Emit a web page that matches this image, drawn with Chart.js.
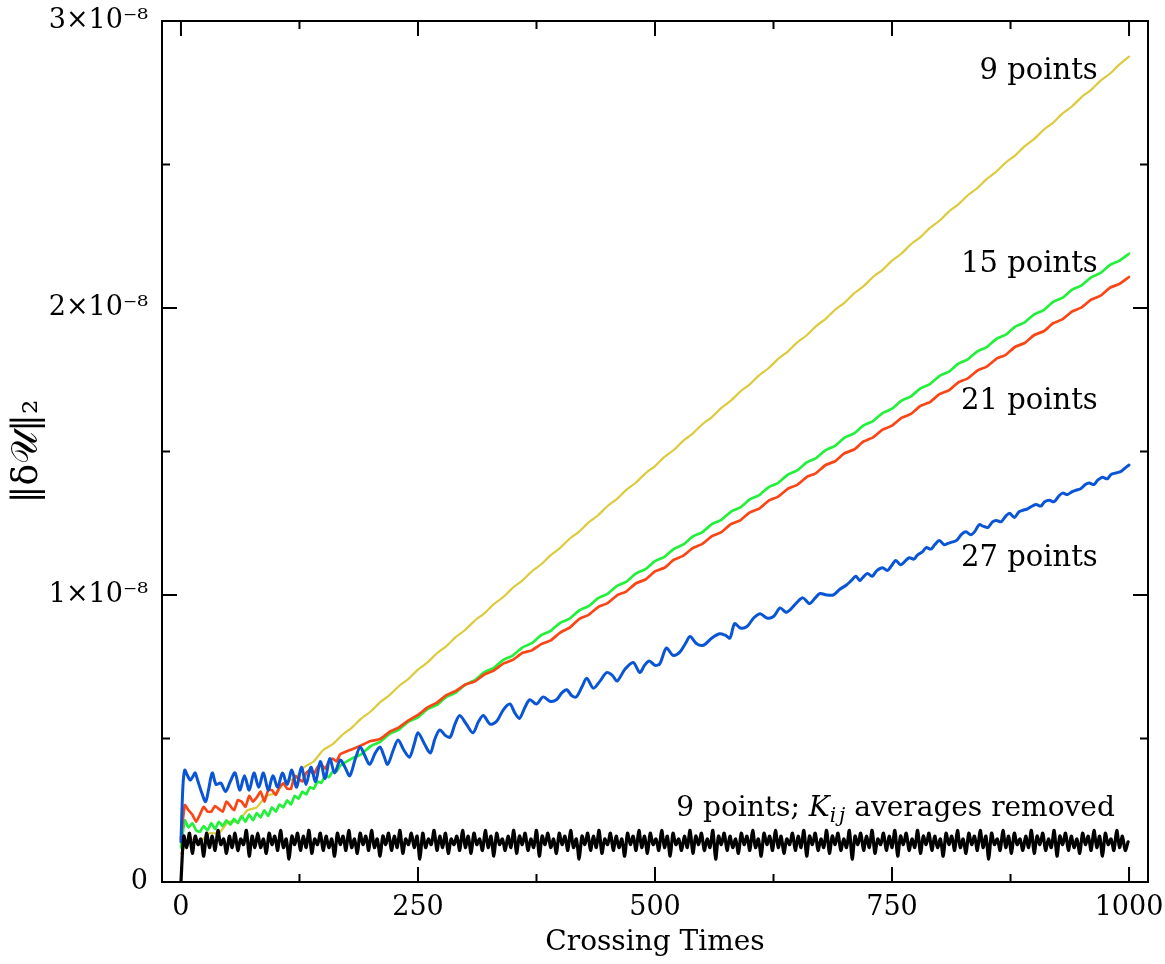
<!DOCTYPE html>
<html lang="en">
<head>
    <meta charset="UTF-8">
    <title>Error growth vs crossing times</title>
    <script src="https://cdn.jsdelivr.net/npm/chart.js"></script>
    <style>
        html, body {
            margin: 0;
            padding: 0;
            background: #ffffff;
        }
        #wrap {
            width: 1165px;
            height: 964px;
        }
    </style>
</head>
<body>
<div id="wrap"><canvas id="errChart" width="1165" height="964"></canvas></div>
<script>
    // values are in units of 1e-8
    const xTicks = [0, 250, 500, 750, 1000];
    const xMinorTicks = [125, 375, 625, 875];
    const yTicks = [0, 1, 2, 3];
    const yMinorTicks = [0.5, 1.5, 2.5];

    // 9 points, sampled every 10 crossing times
    const yellowV = [
        0.10, 0.15, 0.14, 0.17, 0.17, 0.21, 0.21, 0.25, 0.26, 0.30, 0.31, 0.35, 0.36, 0.40, 0.42, 0.46, 0.48,
        0.512, 0.537, 0.569, 0.594, 0.626, 0.651, 0.683, 0.708, 0.740, 0.765,
        0.797, 0.822, 0.854, 0.879, 0.911, 0.936, 0.968, 0.993, 1.025, 1.050,
        1.082, 1.107, 1.139, 1.164, 1.196, 1.221, 1.253, 1.278, 1.310, 1.335,
        1.367, 1.392, 1.424, 1.449, 1.481, 1.506, 1.538, 1.563, 1.595, 1.620,
        1.652, 1.677, 1.709, 1.734, 1.766, 1.791, 1.823, 1.848, 1.880, 1.905,
        1.937, 1.962, 1.994, 2.019, 2.051, 2.076, 2.108, 2.133, 2.165, 2.190,
        2.222, 2.247, 2.279, 2.304, 2.336, 2.361, 2.393, 2.418, 2.450, 2.475,
        2.507, 2.532, 2.564, 2.589, 2.621, 2.646, 2.678, 2.703, 2.735, 2.760,
        2.792, 2.817, 2.849, 2.876
    ];

    // 15 points: every 4 up to 168, then every 10 from 180
    const greenEarly = [
        0.12, 0.215, 0.19, 0.205, 0.18, 0.175, 0.195, 0.18, 0.205, 0.185,
        0.21, 0.195, 0.215, 0.20, 0.22, 0.205, 0.23, 0.21, 0.235, 0.215,
        0.24, 0.225, 0.25, 0.23, 0.26, 0.245, 0.27, 0.26, 0.285, 0.27,
        0.30, 0.29, 0.315, 0.305, 0.33, 0.325, 0.35, 0.345, 0.37, 0.365,
        0.385, 0.385, 0.405
    ];
    const greenLate = [
        0.430, 0.445, 0.473, 0.488, 0.516, 0.531, 0.559, 0.574, 0.602, 0.617,
        0.645, 0.660, 0.688, 0.703, 0.731, 0.746, 0.774, 0.789, 0.817, 0.832,
        0.860, 0.875, 0.903, 0.918, 0.946, 0.961, 0.989, 1.004, 1.032, 1.047,
        1.075, 1.090, 1.118, 1.133, 1.161, 1.176, 1.204, 1.219, 1.247, 1.262,
        1.290, 1.305, 1.333, 1.348, 1.376, 1.391, 1.419, 1.434, 1.462, 1.477,
        1.505, 1.520, 1.548, 1.563, 1.591, 1.606, 1.634, 1.649, 1.677, 1.692,
        1.720, 1.735, 1.763, 1.778, 1.806, 1.821, 1.849, 1.864, 1.892, 1.907,
        1.935, 1.950, 1.978, 1.993, 2.021, 2.036, 2.064, 2.079, 2.107, 2.122,
        2.150, 2.165, 2.189
    ];

    // 21 points
    const redEarly = [
        0.15, 0.268, 0.25, 0.235, 0.21, 0.235, 0.262, 0.245, 0.245, 0.265,
        0.255, 0.245, 0.28, 0.265, 0.25, 0.285, 0.28, 0.262, 0.30, 0.28,
        0.295, 0.315, 0.28, 0.32, 0.32, 0.303, 0.33, 0.344, 0.325, 0.325,
        0.37, 0.36, 0.35, 0.38, 0.39, 0.375, 0.40, 0.41, 0.395, 0.42,
        0.43, 0.42, 0.445
    ];
    const redLate = [
        0.462, 0.476, 0.491, 0.498, 0.523, 0.539, 0.563, 0.582, 0.608, 0.625,
        0.651, 0.666, 0.688, 0.699, 0.723, 0.737, 0.761, 0.774, 0.798, 0.807,
        0.829, 0.842, 0.869, 0.886, 0.916, 0.931, 0.958, 0.972, 0.999, 1.013,
        1.041, 1.054, 1.082, 1.095, 1.123, 1.137, 1.164, 1.178, 1.205, 1.219,
        1.247, 1.260, 1.288, 1.301, 1.329, 1.343, 1.370, 1.384, 1.411, 1.425,
        1.453, 1.466, 1.494, 1.507, 1.535, 1.549, 1.576, 1.590, 1.617, 1.631,
        1.659, 1.672, 1.700, 1.713, 1.741, 1.755, 1.782, 1.796, 1.823, 1.837,
        1.865, 1.878, 1.906, 1.919, 1.947, 1.961, 1.988, 2.002, 2.029, 2.043,
        2.071, 2.084, 2.108
    ];

    // 27 points, read at the visible wiggles
    const blueT = [
        0, 2, 4, 7, 10, 13, 15, 18, 22, 26,
        29, 33, 37, 42, 47, 52, 57, 62, 67, 72,
        77, 82, 87, 92, 97, 102, 107, 112, 117, 122,
        127, 132, 137, 142, 147, 152, 157, 162, 168, 173,
        178, 184, 189, 194, 199, 205, 210, 214, 218, 224,
        229, 235, 241, 246, 250, 257, 263, 268, 273, 279,
        284, 289, 294, 301, 308, 314, 319, 326, 333, 340,
        347, 352, 357, 363, 368, 375, 382, 389, 396, 402,
        407, 412, 417, 423, 428, 435, 442, 449, 455, 460,
        468, 477, 484, 489, 494, 500, 505, 512, 519, 526,
        532, 537, 544, 551, 560, 568, 574, 579, 584, 590,
        597, 604, 611, 618, 625, 632, 638, 643, 650, 656,
        663, 669, 674, 681, 688, 695, 702, 707, 712, 716,
        719, 724, 729, 734, 740, 745, 749, 754, 759, 763,
        768, 773, 777, 782, 786, 791, 795, 800, 805, 809,
        814, 818, 823, 828, 833, 837, 842, 846, 851, 856,
        860, 865, 870, 874, 879, 884, 888, 893, 898, 902,
        907, 911, 916, 921, 926, 930, 935, 940, 944, 949,
        954, 958, 963, 967, 972, 977, 981, 986, 991, 995,
        1000
    ];
    const blueV = [
        0.14, 0.33, 0.39, 0.37, 0.355, 0.37, 0.38, 0.35, 0.31, 0.28,
        0.32, 0.38, 0.34, 0.345, 0.315, 0.35, 0.38, 0.32, 0.37, 0.32,
        0.38, 0.33, 0.38, 0.32, 0.37, 0.33, 0.38, 0.34, 0.39, 0.33,
        0.40, 0.34, 0.40, 0.35, 0.42, 0.36, 0.43, 0.38, 0.425, 0.40,
        0.37, 0.43, 0.47, 0.44, 0.41, 0.45, 0.47, 0.44, 0.41, 0.46,
        0.495, 0.46, 0.435, 0.48, 0.52, 0.48, 0.45, 0.50, 0.53, 0.51,
        0.505, 0.55, 0.58, 0.55, 0.52, 0.56, 0.58, 0.55, 0.56, 0.60,
        0.62, 0.59, 0.57, 0.61, 0.635, 0.62, 0.645, 0.63, 0.635, 0.66,
        0.67, 0.65, 0.645, 0.68, 0.71, 0.675, 0.70, 0.73, 0.72, 0.70,
        0.74, 0.765, 0.73, 0.755, 0.77, 0.755, 0.76, 0.815, 0.79, 0.80,
        0.83, 0.855, 0.83, 0.825, 0.85, 0.865, 0.86, 0.85, 0.90, 0.885,
        0.89, 0.92, 0.935, 0.92, 0.925, 0.955, 0.94, 0.95, 0.975, 0.99,
        0.97, 0.99, 1.005, 1.00, 1.00, 1.02, 1.035, 1.05, 1.065, 1.05,
        1.06, 1.075, 1.065, 1.085, 1.095, 1.085, 1.10, 1.12, 1.105, 1.115,
        1.13, 1.125, 1.14, 1.15, 1.165, 1.16, 1.175, 1.19, 1.175, 1.18,
        1.185, 1.19, 1.21, 1.22, 1.21, 1.22, 1.245, 1.24, 1.235, 1.255,
        1.26, 1.255, 1.275, 1.285, 1.27, 1.29, 1.295, 1.30, 1.31, 1.315,
        1.31, 1.325, 1.33, 1.325, 1.345, 1.355, 1.35, 1.36, 1.365, 1.37,
        1.385, 1.39, 1.385, 1.40, 1.41, 1.405, 1.42, 1.425, 1.43, 1.44,
        1.453
    ];

    // 9 points with K_ij averages removed, sampled every 3 crossing times
    const blackV = [
        0.00, 0.16, 0.12, 0.17, 0.10, 0.16, 0.13, 0.15, 0.09, 0.17, 0.12, 0.16, 0.11, 0.18, 0.13, 0.15, 0.10, 0.16, 0.12, 0.17,
        0.11, 0.15, 0.13, 0.18, 0.09, 0.16, 0.12, 0.17, 0.12, 0.15, 0.10, 0.17, 0.13, 0.16, 0.11, 0.18, 0.12, 0.15, 0.08, 0.16,
        0.13, 0.17, 0.11, 0.16, 0.12, 0.18, 0.10, 0.15, 0.13, 0.17, 0.11, 0.16, 0.12, 0.15, 0.09, 0.17, 0.13, 0.16, 0.11, 0.18,
        0.12, 0.15, 0.10, 0.17, 0.13, 0.16, 0.11, 0.18, 0.12, 0.15, 0.09, 0.16, 0.13, 0.17, 0.11, 0.16, 0.12, 0.18, 0.10, 0.15,
        0.13, 0.17, 0.12, 0.16, 0.08, 0.17, 0.12, 0.15, 0.13, 0.18, 0.11, 0.16, 0.12, 0.17, 0.10, 0.15, 0.13, 0.16, 0.11, 0.18,
        0.12, 0.16, 0.10, 0.17, 0.13, 0.15, 0.11, 0.18, 0.12, 0.16, 0.09, 0.17, 0.13, 0.15, 0.11, 0.16, 0.12, 0.18, 0.10, 0.16,
        0.13, 0.17, 0.11, 0.15, 0.12, 0.18, 0.09, 0.16, 0.13, 0.17, 0.12, 0.15, 0.10, 0.17, 0.13, 0.16, 0.11, 0.18, 0.12, 0.15,
        0.08, 0.16, 0.13, 0.17, 0.11, 0.16, 0.12, 0.18, 0.10, 0.15, 0.13, 0.17, 0.11, 0.16, 0.12, 0.15, 0.09, 0.17, 0.13, 0.16,
        0.11, 0.18, 0.12, 0.16, 0.10, 0.17, 0.13, 0.15, 0.11, 0.18, 0.12, 0.16, 0.09, 0.17, 0.13, 0.15, 0.11, 0.16, 0.12, 0.18,
        0.10, 0.16, 0.13, 0.17, 0.11, 0.15, 0.12, 0.18, 0.08, 0.16, 0.13, 0.17, 0.11, 0.16, 0.12, 0.15, 0.10, 0.17, 0.13, 0.16,
        0.11, 0.18, 0.12, 0.15, 0.09, 0.17, 0.13, 0.16, 0.11, 0.18, 0.12, 0.16, 0.10, 0.15, 0.13, 0.17, 0.11, 0.16, 0.12, 0.18,
        0.09, 0.16, 0.13, 0.17, 0.11, 0.15, 0.12, 0.18, 0.10, 0.16, 0.13, 0.17, 0.11, 0.15, 0.12, 0.18, 0.08, 0.16, 0.13, 0.17,
        0.11, 0.16, 0.12, 0.18, 0.10, 0.15, 0.13, 0.17, 0.11, 0.16, 0.12, 0.18, 0.09, 0.16, 0.13, 0.17, 0.11, 0.15, 0.12, 0.18,
        0.10, 0.16, 0.13, 0.17, 0.11, 0.16, 0.12, 0.15, 0.09, 0.17, 0.13, 0.16, 0.11, 0.18, 0.12, 0.15, 0.10, 0.17, 0.13, 0.16,
        0.11, 0.18, 0.12, 0.16, 0.08, 0.17, 0.13, 0.15, 0.11, 0.18, 0.12, 0.16, 0.10, 0.17, 0.13, 0.15, 0.11, 0.16, 0.12, 0.18,
        0.10, 0.16, 0.13, 0.17, 0.11, 0.15, 0.12, 0.18, 0.09, 0.16, 0.13, 0.17, 0.11, 0.16, 0.12, 0.15, 0.10, 0.17, 0.13, 0.16,
        0.11, 0.18, 0.12, 0.16, 0.09, 0.17, 0.13, 0.15, 0.11, 0.18, 0.12, 0.16, 0.11, 0.14
    ];

    // sampling grid helper
    function steps(start, stop, step) {
        const out = [];
        for (let t = start; t <= stop + 1e-9; t += step) out.push(t);
        return out;
    }

    function toPoints(times, values) {
        const n = Math.min(times.length, values.length);
        if (times.length !== values.length) console.warn('length mismatch', times.length, values.length);
        const pts = [];
        for (let i = 0; i < n; i++) pts.push({ x: times[i], y: values[i] });
        return pts;
    }

    const yellowT = steps(0, 1000, 10);
    const greenT = steps(0, 168, 4).concat(steps(180, 1000, 10));
    const redT = steps(0, 168, 4).concat(steps(180, 1000, 10));
    const blackT = steps(0, 999, 3);

    const serif = "'DejaVu Serif', serif";

    // Annotations next to the curves
    const curveLabels = [
        { text: '9 points', x: 967, y: 2.798 },
        { text: '15 points', x: 967, y: 2.125 },
        { text: '21 points', x: 967, y: 1.648 },
        { text: '27 points', x: 967, y: 1.101 }
    ];

    const framePlugin = {
        id: 'frame',
        afterDatasetsDraw(chart) {
            const { ctx, chartArea: a } = chart;
            const xs = chart.scales.x, ys = chart.scales.y;
            ctx.save();
            ctx.strokeStyle = '#000';
            ctx.lineWidth = 2;
            ctx.beginPath();
            const xTick = (v, len) => {
                const p = xs.getPixelForValue(v);
                ctx.moveTo(p, a.bottom); ctx.lineTo(p, a.bottom - len);
                ctx.moveTo(p, a.top); ctx.lineTo(p, a.top + len);
            };
            const yTick = (v, len) => {
                const p = ys.getPixelForValue(v);
                ctx.moveTo(a.left, p); ctx.lineTo(a.left + len, p);
                ctx.moveTo(a.right, p); ctx.lineTo(a.right - len, p);
            };
            xTicks.forEach(v => xTick(v, 15));
            xMinorTicks.forEach(v => xTick(v, 8));
            yTicks.forEach(v => yTick(v, 15));
            yMinorTicks.forEach(v => yTick(v, 8));
            ctx.stroke();
            ctx.strokeRect(a.left, a.top, a.right - a.left, a.bottom - a.top);

            // curve labels
            ctx.fillStyle = '#000';
            ctx.textAlign = 'right';
            ctx.textBaseline = 'alphabetic';
            ctx.font = '29px ' + serif;
            curveLabels.forEach(l => {
                ctx.fillText(l.text, xs.getPixelForValue(l.x), ys.getPixelForValue(l.y));
            });

            // "9 points; K_ij averages removed"
            const right = xs.getPixelForValue(985);
            const base = ys.getPixelForValue(0.23);
            const parts = [
                { t: '9 points; ', f: '28px ' + serif, dy: 0 },
                { t: 'K', f: 'italic 28px ' + serif, dy: 0 },
                { t: 'i', f: 'italic 20px ' + serif, dy: 6, gap: 3 },
                { t: 'j', f: 'italic 20px ' + serif, dy: 6 },
                { t: ' averages removed', f: '28px ' + serif, dy: 0 }
            ];
            let total = 0;
            parts.forEach(p => { ctx.font = p.f; p.w = ctx.measureText(p.t).width + (p.gap || 0); total += p.w; });
            let cx = right - total;
            ctx.textAlign = 'left';
            parts.forEach(p => {
                ctx.font = p.f;
                ctx.fillText(p.t, cx, base + p.dy);
                cx += p.w;
            });
            ctx.restore();
        }
    };

    function lineSet(label, points, color, width, tension) {
        return {
            label: label,
            data: points,
            borderColor: color,
            backgroundColor: color,
            borderWidth: width,
            pointRadius: 0,
            fill: false,
            tension: tension
        };
    }

    const ctx = document.getElementById('errChart').getContext('2d');
    new Chart(ctx, {
        type: 'line',
        data: {
            datasets: [
                lineSet('9 points; Kij averages removed', toPoints(blackT, blackV), '#000000', 3.2, 0.3),
                lineSet('27 points', toPoints(blueT, blueV), '#0a55d6', 3, 0.3),
                lineSet('21 points', toPoints(redT, redEarly.concat(redLate)), '#fa4616', 2.7, 0.15),
                lineSet('15 points', toPoints(greenT, greenEarly.concat(greenLate)), '#22f03a', 2.7, 0.15),
                lineSet('9 points', toPoints(yellowT, yellowV), '#dccb3c', 2.2, 0.15)
            ]
        },
        options: {
            responsive: false,
            animation: false,
            layout: { padding: { top: 21, right: 17, left: 0, bottom: 0 } },
            elements: { line: { borderJoinStyle: 'round', borderCapStyle: 'round' } },
            plugins: {
                legend: { display: false },
                tooltip: { enabled: false }
            },
            scales: {
                x: {
                    type: 'linear',
                    min: -20,
                    max: 1020,
                    afterBuildTicks: s => { s.ticks = xTicks.map(v => ({ value: v })); },
                    afterFit: s => {
                        s.height = 82;
                        s.paddingLeft = 0;
                        s.paddingRight = 0;
                    },
                    grid: { display: false, drawTicks: false },
                    border: { display: false },
                    ticks: {
                        color: '#000',
                        font: { family: serif, size: 27 },
                        padding: 10,
                        maxRotation: 0,
                        autoSkip: false,
                        callback: v => String(v)
                    },
                    title: {
                        display: true,
                        text: 'Crossing Times',
                        color: '#000',
                        font: { family: serif, size: 28 },
                        padding: { top: 0, bottom: 4 }
                    }
                },
                y: {
                    type: 'linear',
                    min: 0,
                    max: 3,
                    afterBuildTicks: s => { s.ticks = yTicks.map(v => ({ value: v })); },
                    afterFit: s => {
                        s.width = 162;
                        s.paddingTop = 0;
                        s.paddingBottom = 0;
                    },
                    grid: { display: false, drawTicks: false },
                    border: { display: false },
                    ticks: {
                        color: '#000',
                        font: { family: serif, size: 27 },
                        padding: 14,
                        callback: v => (v === 0 ? '0' : v + '×10⁻⁸')
                    },
                    title: {
                        display: true,
                        text: '‖δ𝒰‖₂',
                        color: '#000',
                        font: { family: serif, size: 36 },
                        padding: { top: 6, bottom: 0 }
                    }
                }
            }
        },
        plugins: [framePlugin]
    });
</script>
</body>
</html>
